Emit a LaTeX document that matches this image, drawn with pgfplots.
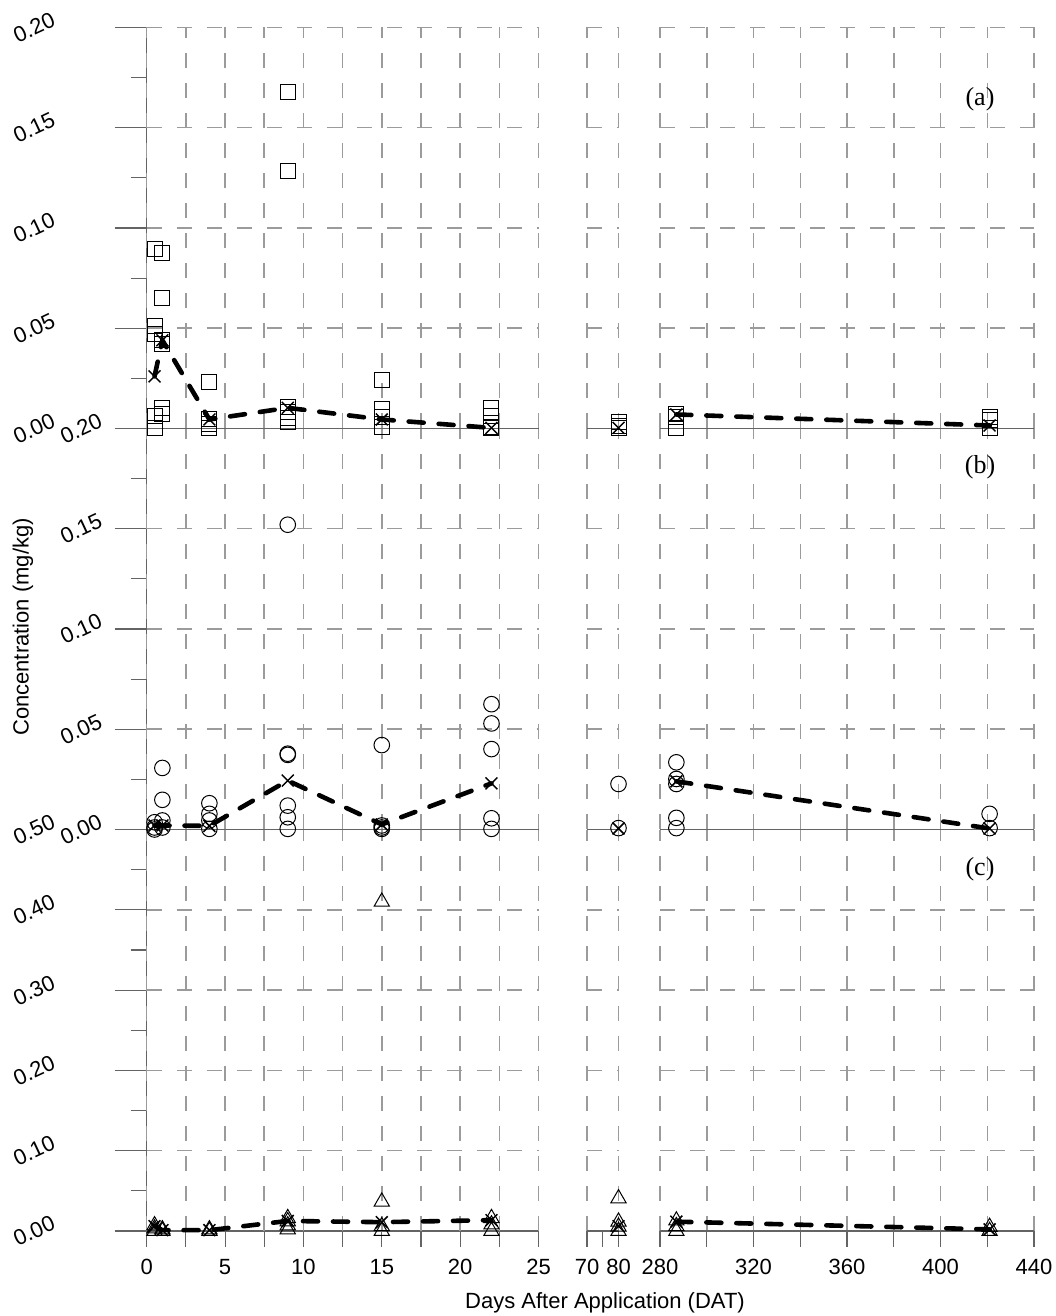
\documentclass[border=0pt]{standalone}
\usepackage{pgfplots}
\pgfplotsset{compat=1.18}
\usepackage{fontspec}
\setmainfont{Liberation Sans}
\newfontfamily\serifpanel{Liberation Serif}
\definecolor{axgray}{RGB}{100,100,100}
\definecolor{grgray}{RGB}{155,155,155}

\pgfplotsset{
  base/.style={
    scale only axis, clip=false, anchor=south west,
    axis x line*=bottom, axis y line*=left,
    axis line style={axgray, line width=0.55pt},
    tick style={axgray, line width=0.55pt},
    tick align=outside,
    major grid style={grgray, line width=0.75pt, dash pattern=on 7.5pt off 7.5pt},
    minor grid style={grgray, line width=0.75pt, dash pattern=on 7.5pt off 7.5pt},
    ymajorgrids,
    tick label style={font=\fontsize{11}{12}\selectfont},
    xticklabel style={yshift=-2.5pt},
    /pgf/number format/assume math mode=true,
    scaled y ticks=false,
    yticklabel style={/pgf/number format/fixed, /pgf/number format/fixed zerofill,
      /pgf/number format/precision=2, anchor=center},
  },
  s1/.style={width=195.9pt, xmin=0, xmax=25, xtick=\empty,
    extra x ticks={0,2.5,...,25}, major tick length=16pt, minor tick length=8pt},
  s2/.style={width=15.75pt, xmin=70, xmax=80, xtick={70,80}, xmajorgrids,
    major tick length=8pt, minor tick length=8pt,
    ytick style={draw=none}, y axis line style={draw=none}, yticklabels={,,,,,,}},
  s3/.style={width=187pt, xmin=280, xmax=440, xtick={280,300,...,440}, xmajorgrids,
    major tick length=8pt, minor tick length=8pt,
    ytick style={draw=none}, y axis line style={draw=none}, yticklabels={,,,,,,}},
  pA/.style={ymin=0, ymax=0.2, ytick={0,0.05,0.1,0.15,0.2}, height=200.5pt},
  pB/.style={ymin=0, ymax=0.2, ytick={0,0.05,0.1,0.15,0.2}, height=200.5pt},
  pC/.style={ymin=0, ymax=0.5, ytick={0,0.1,0.2,0.3,0.4,0.5}, height=200.75pt},
  noxlab/.style={xtick style={draw=none}, xticklabels={,,,,,,,,,}},
  s1nolab/.style={extra x tick labels={,,,,,,,,,,}, extra x tick style={grid=major, major tick length=0pt}},
  farlab/.style={yticklabel style={xshift=-40.35pt, rotate=25}},
  nearlab/.style={yticklabel style={xshift=-16.85pt, rotate=25}},
  sq/.style={only marks, mark=square, mark size=3.75pt, mark options={black, line width=0.5pt}},
  ci/.style={only marks, mark=o, mark size=3.9pt, mark options={black, line width=0.5pt}},
  tr/.style={only marks, mark=triangle, mark size=4.4pt, mark options={black, line width=0.5pt}},
  mk/.style={only marks, mark=x, mark size=4.2pt, mark options={black, line width=0.75pt}},
  meanline/.style={black, line width=2.3pt, dash pattern=on 7.5pt off 7.5pt, line cap=round,
    mark=x, mark size=4.2pt, mark options={solid, line width=0.75pt, line cap=butt}},
}

\begin{document}
\begin{tikzpicture}
\useasboundingbox (0pt,0pt) rectangle (527.5pt,658pt);

% ================= Panel C (triangles) =================
\begin{axis}[base, s1, pC, farlab, at={(73.35pt,42.5pt)},
  minor ytick={0.05,0.15,0.25,0.35,0.45},
  extra x tick labels={0,,5,,10,,15,,20,,25},
  extra x tick style={grid=major, major tick length=8pt}]
\addplot[tr] coordinates {(0.5,0.007)(0.5,0.003)(0.5,0)(1,0.002)(1,0)(4,0.002)(4,0)
  (9,0.016)(9,0.012)(9,0.007)(9,0.002)(15,0.41)(15,0.0365)(15,0.006)(15,0)
  (22,0.016)(22,0.008)(22,0)};
\addplot[meanline] coordinates {(0.5,0.006)(1,0.001)(4,0.001)(9,0.0125)(15,0.011)(22,0.0135)};
\end{axis}
\begin{axis}[base, s2, pC, at={(293.5pt,42.5pt)}, xticklabels={70,80}, minor xtick={75}]
\addplot[tr] coordinates {(80,0.0406)(80,0.0116)(80,0.0054)(80,0)};
\addplot[mk] coordinates {(80,0.006)};
\end{axis}
\begin{axis}[base, s3, pC, at={(330pt,42.5pt)}, xticklabels={280,,320,,360,,400,,440}]
\addplot[tr] coordinates {(287,0.013)(287,0.006)(287,0)(421,0.005)(421,0)};
\addplot[meanline] coordinates {(287,0.0116)(421,0.002)};
\end{axis}

% ================= Panel B (circles) =================
\begin{axis}[base, s1, pB, s1nolab, nearlab, at={(73.35pt,243.25pt)},
  minor ytick={0.025,0.075,0.125,0.175}]
\addplot[ci] coordinates {(0.5,0.0036)(0.5,0.001)(0.5,0)(1,0.0307)(1,0.0148)(1,0.0045)(1,0.001)
  (4,0.0131)(4,0.0078)(4,0.0045)(4,0.0003)
  (9,0.152)(9,0.0378)(9,0.0372)(9,0.0119)(9,0.0061)(9,0.0003)
  (15,0.0421)(15,0.002)(15,0.001)(15,0.0003)
  (22,0.0625)(22,0.0529)(22,0.0401)(22,0.0056)(22,0.0003)};
\addplot[meanline] coordinates {(0.5,0.002)(1,0.002)(4,0.0018)(9,0.0244)(15,0.0025)(22,0.023)};
\end{axis}
\begin{axis}[base, s2, pB, noxlab, at={(293.5pt,243.25pt)}]
\addplot[ci] coordinates {(80,0.0227)(80,0.0007)};
\addplot[mk] coordinates {(80,0.0005)};
\end{axis}
\begin{axis}[base, s3, pB, noxlab, at={(330pt,243.25pt)}]
\addplot[ci] coordinates {(287,0.0335)(287,0.0252)(287,0.0227)(287,0.0058)(287,0.0007)(421,0.0078)(421,0.0007)};
\addplot[meanline] coordinates {(287,0.024)(421,0.0005)};
\end{axis}

% ================= Panel A (squares) =================
\begin{axis}[base, s1, pA, s1nolab, farlab, at={(73.35pt,443.75pt)},
  minor ytick={0.025,0.075,0.125,0.175}]
\addplot[sq] coordinates {(0.5,0.0895)(0.5,0.051)(0.5,0.047)(0.5,0.006)(0.5,0)
  (1,0.0873)(1,0.0653)(1,0.0443)(1,0.042)(1,0.0103)(1,0.007)
  (4,0.0232)(4,0.0045)(4,0.002)(4,0)
  (9,0.168)(9,0.1285)(9,0.0105)(9,0.008)(9,0.005)(9,0.003)
  (15,0.024)(15,0.0095)(15,0.0055)(15,0.0008)
  (22,0.0103)(22,0.006)(22,0.0008)(22,0)};
\addplot[meanline] coordinates {(0.5,0.026)(1,0.044)(4,0.0045)(9,0.0103)(15,0.0045)(22,0.0003)};
\end{axis}
\begin{axis}[base, s2, pA, noxlab, at={(293.5pt,443.75pt)}]
\addplot[sq] coordinates {(80,0.0033)(80,0.0012)(80,0)};
\addplot[mk] coordinates {(80,0.0003)};
\end{axis}
\begin{axis}[base, s3, pA, noxlab, at={(330pt,443.75pt)}]
\addplot[sq] coordinates {(287,0.007)(287,0.0055)(287,0)(421,0.0055)(421,0.004)(421,0)};
\addplot[meanline] coordinates {(287,0.007)(421,0.0015)};
\end{axis}

% ================= Labels =================
\node[font=\fontsize{11}{13}\selectfont, anchor=base] at (302.5pt,4pt) {Days After Application (DAT)};
\node[font=\fontsize{11}{13}\selectfont, rotate=90, anchor=center] at (11.5pt,344.5pt) {Concentration (mg/kg)};
\node[font=\serifpanel\fontsize{13}{15}\selectfont] at (490pt,608.5pt) {(a)};
\node[font=\serifpanel\fontsize{13}{15}\selectfont] at (490pt,424.5pt) {(b)};
\node[font=\serifpanel\fontsize{13}{15}\selectfont] at (490pt,223.5pt) {(c)};
\end{tikzpicture}
\end{document}
